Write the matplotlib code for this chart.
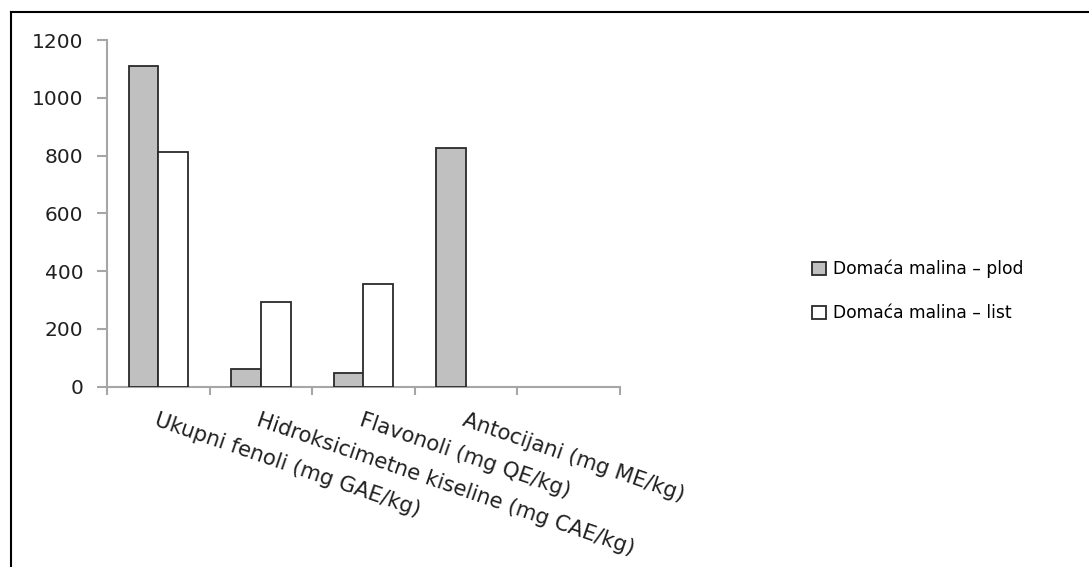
import numpy as np
import matplotlib
matplotlib.use("Agg")
import matplotlib.pyplot as plt
from matplotlib.lines import Line2D

categories = ["Ukupni fenoli (mg GAE/kg)",
              "Hidroksicimetne kiseline (mg CAE/kg)",
              "Flavonoli (mg QE/kg)",
              "Antocijani (mg ME/kg)",
              ""]
series_names = ["Domaća malina – plod", "Domaća malina – list"]
plod = [1110, 61, 49, 825, np.nan]
list_ = [812, 292, 355, np.nan, np.nan]
yticks = [0, 200, 400, 600, 800, 1000, 1200]

plt.rcParams['font.family'] = ['DejaVu Sans']

W, H = 1089, 567
fig = plt.figure(figsize=(W/100, H/100), dpi=100)
ax = fig.add_axes([107/W, 1-386.7/H, (620-107)/W, (386.7-40)/H])

x = np.arange(len(categories))
bw = 0.29
ax.bar(x - bw/2, plod, bw, color='#C0C0C0', edgecolor='#2A2A2A', linewidth=1.3,
       label=series_names[0], zorder=3)
ax.bar(x + bw/2, list_, bw, color='white', edgecolor='#2A2A2A', linewidth=1.3,
       label=series_names[1], zorder=3)

ax.set_xlim(-0.5, len(categories)-0.5)
ax.set_ylim(0, 1200)
ax.set_yticks(yticks)
ax.set_yticklabels([str(v) for v in yticks], fontsize=14.5, color='#202020')

ax.set_xticks(x)
ax.set_xticklabels(categories, fontsize=15.3, color='#202020', rotation=-19,
                   ha='left', va='top', rotation_mode='anchor')
ax.set_xticks(np.arange(len(categories)+1)-0.5, minor=True)
ax.tick_params(axis='x', which='major', length=0, pad=17)
ax.tick_params(axis='x', which='minor', length=6, width=1.5, color='#A6A6A6', direction='out')
ax.tick_params(axis='y', length=7, width=1.5, color='#A6A6A6', pad=10)

for s in ['top', 'right']:
    ax.spines[s].set_visible(False)
for s in ['left', 'bottom']:
    ax.spines[s].set_color('#A6A6A6')
    ax.spines[s].set_linewidth(1.5)

ax.legend(loc='center left', bbox_to_anchor=(812/W, 1-291/H), bbox_transform=fig.transFigure,
          frameon=False, fontsize=12.3, handlelength=0.8, handleheight=0.8,
          handletextpad=0.45, labelspacing=1.5, borderaxespad=0, borderpad=0)

# figure border (top and left visible)
fig.add_artist(Line2D([10.5/W, 10.5/W], [0, 1-12/H], color='black', linewidth=1.5,
                      transform=fig.transFigure))
fig.add_artist(Line2D([10.5/W, 1], [1-12/H, 1-12/H], color='black', linewidth=1.5,
                      transform=fig.transFigure))

fig.savefig('out.png', dpi=100)
